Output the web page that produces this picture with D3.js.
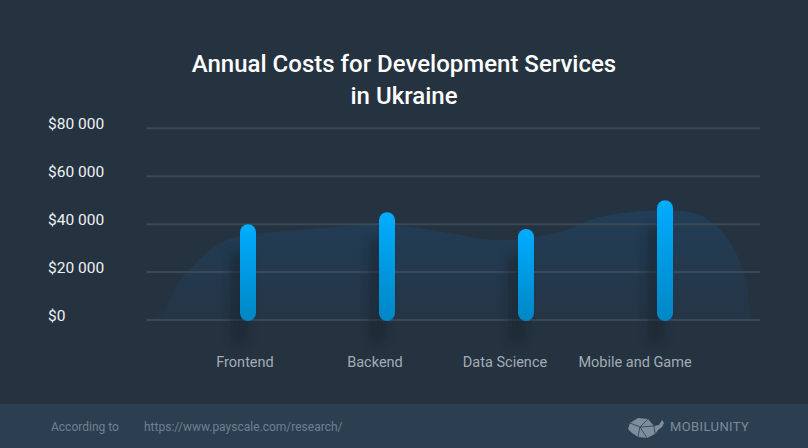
<!DOCTYPE html>
<html><head><meta charset="utf-8">
<script src="https://cdn.jsdelivr.net/npm/d3@7"></script>
<style>
html,body{margin:0;padding:0;background:#253340;}
svg{display:block;font-family:Roboto,"Noto Sans",sans-serif;}
</style></head>
<body><svg id="c" width="808" height="448"></svg>
<script>
const categories = ["Frontend", "Backend", "Data Science", "Mobile and Game"];
const costs = [40000, 45000, 38000, 50000];
const tickValues = [0, 20000, 40000, 60000, 80000];
const tickLabels = ["$0", "$20 000", "$40 000", "$60 000", "$80 000"];
// decorative background wave: position in category-index units, value in $
const waveX = [-0.72, -0.63, -0.47, -0.22, -0.06, 0.37, 0.99, 1.45, 1.81, 2.24, 2.53, 3.0, 3.25, 3.40, 3.50, 3.58, 3.61];
const waveV = [0, 2100, 17900, 31250, 35000, 37500, 39600, 36250, 33300, 36700, 42900, 45800, 43750, 37500, 29200, 16700, 0];
const titleLines = ["Annual Costs for Development Services", "in Ukraine"];
const footerLeft = "According to";
const footerUrl = "https://www.payscale.com/research/";
const brand = "MOBILUNITY";

const W = 808, H = 448;
const svg = d3.select("#c");
const defs = svg.append("defs");

const grad = defs.append("linearGradient").attr("id","bar").attr("x1",0).attr("y1",0).attr("x2",0).attr("y2",1);
grad.append("stop").attr("offset","0%").attr("stop-color","#00adff");
grad.append("stop").attr("offset","100%").attr("stop-color","#0086c4");
const wg = defs.append("linearGradient").attr("id","wave").attr("x1",0).attr("y1",0).attr("x2",0).attr("y2",1);
wg.append("stop").attr("offset","0%").attr("stop-color","#1f4467").attr("stop-opacity",0.6);
wg.append("stop").attr("offset","100%").attr("stop-color","#1f4467").attr("stop-opacity",0.12);
defs.append("filter").attr("id","blur").attr("x","-100%").attr("y","-30%").attr("width","300%").attr("height","160%")
  .append("feGaussianBlur").attr("stdDeviation",5);

svg.append("rect").attr("width",W).attr("height",H).attr("fill","#253340");

const y = d3.scaleLinear().domain([0,80000]).range([320,128.3]);
const xi = d3.scaleLinear().domain([0,3]).range([248,665]);
const xl = d3.scalePoint().domain(categories).range([245,635]);

// wave
const wave = d3.area().x((d,i)=>xi(waveX[i])).y0(y(0)).y1((d,i)=>y(waveV[i])).curve(d3.curveCatmullRom.alpha(0.5));
svg.append("path").datum(waveV).attr("d",wave).attr("fill","url(#wave)");

// grid
svg.append("g").selectAll("line").data(tickValues).join("line")
  .attr("x1",147).attr("x2",760).attr("y1",d=>y(d)).attr("y2",d=>y(d))
  .attr("stroke","#3b4855").attr("stroke-width",2);

// tick labels
svg.append("g").selectAll("text").data(tickValues).join("text")
  .attr("x",48).attr("y",d=>y(d)+1).attr("fill","#eef1f4").attr("font-size",15.5)
  .text((d,i)=>tickLabels[i]);

// shadows
svg.append("g").selectAll("rect").data(costs).join("rect")
  .attr("x",(d,i)=>xi(i)-18).attr("width",18)
  .attr("y",d=>y(d)+25).attr("height",d=>y(0)-y(d))
  .attr("rx",9).attr("fill","#18232d").attr("opacity",0.5).attr("filter","url(#blur)");

// bars
svg.append("g").selectAll("rect").data(costs).join("rect")
  .attr("x",(d,i)=>xi(i)-8).attr("width",16)
  .attr("y",d=>y(d)).attr("height",d=>y(0)-y(d)+1)
  .attr("rx",8).attr("fill","url(#bar)");

// category labels
svg.append("g").selectAll("text").data(categories).join("text")
  .attr("x",d=>xl(d)).attr("y",367).attr("text-anchor","middle")
  .attr("fill","#a3acb5").attr("font-size",14.5).text(d=>d);

// title
svg.append("g").selectAll("text").data(titleLines).join("text")
  .attr("x",404).attr("y",(d,i)=>72+i*31.5).attr("text-anchor","middle")
  .attr("fill","#ffffff").attr("font-size",24).attr("font-weight",500).text(d=>d);

// footer
svg.append("rect").attr("x",0).attr("y",404).attr("width",W).attr("height",44).attr("fill","#2c3f51");
svg.append("text").attr("x",51).attr("y",431).attr("fill","#6e8092").attr("font-size",12).text(footerLeft);
svg.append("text").attr("x",144).attr("y",431).attr("fill","#6e8092").attr("font-size",12).text(footerUrl);
svg.append("text").attr("x",670).attr("y",431).attr("fill","#7a8b9b").attr("font-size",13).attr("letter-spacing",0.4).text(brand);
// logo (whale)
const logo = svg.append("g").attr("transform","translate(628,417)");
logo.append("path").attr("d","M2,6 L10,1 L20,2 L26,9 L31,8 L34,3 L36,6 L34,10 L31,12 L27,17 L19,21 L10,20 L4,16 L0,12 Z")
  .attr("fill","#7d8e9e");
logo.append("path").attr("d","M2,6 L12,10 L20,2 M12,10 L10,20 M12,10 L26,9 M12,10 L19,21 M26,9 L27,17")
  .attr("fill","none").attr("stroke","#2c3f51").attr("stroke-width",0.8);
</script></body></html>
